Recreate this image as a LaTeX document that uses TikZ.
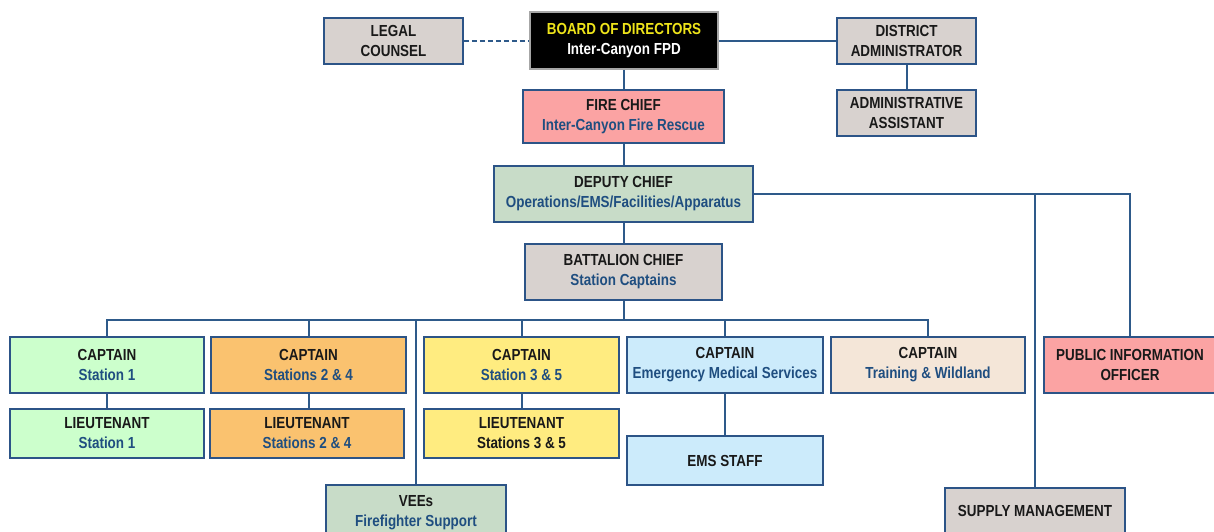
\documentclass[tikz,border=0pt]{standalone}
\usepackage{fontspec}
\setmainfont[FakeStretch=0.84]{Liberation Sans}
\definecolor{boxblue}{HTML}{2C5487}
\definecolor{linecol}{HTML}{2E5A8A}
\definecolor{greyfill}{HTML}{D8D2CF}
\definecolor{pinkfill}{HTML}{FBA3A3}
\definecolor{sagefill}{HTML}{C8DCC8}
\definecolor{greenfill}{HTML}{CCFFCC}
\definecolor{orangefill}{HTML}{FAC26F}
\definecolor{yellowfill}{HTML}{FFEC80}
\definecolor{bluefill}{HTML}{CCEBFB}
\definecolor{beigefill}{HTML}{F4E6D8}
\definecolor{subblue}{HTML}{1F4E80}
\definecolor{titleyellow}{HTML}{EEE41A}
\newcommand{\sub}[1]{\textcolor{subblue}{#1}}
\tikzset{
  orgbox/.style={draw=boxblue, line width=1.8pt, inner sep=0pt, align=center,
    font=\bfseries\fontsize{16}{20}\selectfont, text=black!90},
  link/.style={draw=linecol, line width=2pt},
}
\begin{document}
\begin{tikzpicture}[x=1pt,y=-1pt]
\useasboundingbox (0,0) rectangle (1214,531);
\clip (0,0) rectangle (1214,531);
\fill[white] (0,0) rectangle (1214,531);
% top row
\node[orgbox, fill=greyfill, minimum width=139, minimum height=46] (lc) at (393.5,41) {LEGAL\\COUNSEL};
\node[orgbox, fill=black, draw=gray!70, minimum width=188, minimum height=57] (bd) at (624,40.5) {\textcolor{titleyellow}{BOARD OF DIRECTORS}\\\textcolor{white}{Inter-Canyon FPD}};
\node[orgbox, fill=greyfill, minimum width=139, minimum height=46] (da) at (906.5,41) {DISTRICT\\ADMINISTRATOR};
\node[orgbox, fill=greyfill, minimum width=139, minimum height=46] (aa) at (906.5,113) {ADMINISTRATIVE\\ASSISTANT};
\node[orgbox, fill=pinkfill, minimum width=201, minimum height=53] (fc) at (623.5,116.5) {FIRE CHIEF\\\sub{Inter-Canyon Fire Rescue}};
\node[orgbox, fill=sagefill, minimum width=259, minimum height=56] (dc) at (623.5,194) {DEPUTY CHIEF\\\sub{Operations/EMS/Facilities/Apparatus}};
\node[orgbox, fill=greyfill, minimum width=197, minimum height=56] (bc) at (623.5,272) {BATTALION CHIEF\\\sub{Station Captains}};
% captains
\node[orgbox, fill=greenfill, minimum width=194, minimum height=56] (c1) at (107,365) {CAPTAIN\\\sub{Station 1}};
\node[orgbox, fill=orangefill, minimum width=195, minimum height=56] (c24) at (308.5,365) {CAPTAIN\\\sub{Stations 2 \& 4}};
\node[orgbox, fill=yellowfill, minimum width=195, minimum height=56] (c35) at (521.5,365) {CAPTAIN\\\sub{Station 3 \& 5}};
\node[orgbox, fill=bluefill, minimum width=196, minimum height=56] (cem) at (725,365) {CAPTAIN\\\sub{Emergency Medical Services}};
\node[orgbox, fill=beigefill, minimum width=194, minimum height=56] (ctw) at (928,365) {CAPTAIN\\\sub{Training \& Wildland}};
\node[orgbox, fill=pinkfill, minimum width=172, minimum height=56] (pio) at (1130,365) {PUBLIC INFORMATION\\OFFICER};
% lieutenants
\node[orgbox, fill=greenfill, minimum width=194, minimum height=49] (l1) at (107,433.5) {LIEUTENANT\\\sub{Station 1}};
\node[orgbox, fill=orangefill, minimum width=194, minimum height=49] (l24) at (307,433.5) {LIEUTENANT\\\sub{Stations 2 \& 4}};
\node[orgbox, fill=yellowfill, minimum width=195, minimum height=49] (l35) at (521.5,433.5) {LIEUTENANT\\Stations 3 \& 5};
\node[orgbox, fill=bluefill, minimum width=196, minimum height=49] (ems) at (725,460.5) {EMS STAFF};
\node[orgbox, fill=sagefill, minimum width=180, minimum height=56] (vee) at (416,513) {VEEs\\\sub{Firefighter Support}};
\node[orgbox, fill=greyfill, minimum width=180, minimum height=46] (sup) at (1035,511) {SUPPLY MANAGEMENT};
% connectors
\coordinate (bus) at (0,320);
\draw[link, dashed, dash pattern=on 5pt off 3pt] (lc.east) -- (lc.east -| bd.west);
\draw[link] (bd.east) -- (bd.east -| da.west);
\draw[link] (da.south) -- (aa.north);
\draw[link] (bd.south) -- (bd.south |- fc.north);
\draw[link] (fc.south) -- (dc.north);
\draw[link] (dc.south) -- (bc.north);
\draw[link] (dc.east) -| (pio.north);
\draw[link] (sup.north) -- (sup.north |- dc.east);
\draw[link] (bc.south) -- (bc.south |- bus);
\draw[link] (c1.north) -- (c1.north |- bus) -| (ctw.north);
\draw[link] (c24.north) -- (c24.north |- bus);
\draw[link] (c35.north) -- (c35.north |- bus);
\draw[link] (cem.north) -- (cem.north |- bus);
\draw[link] (vee.north) -- (vee.north |- bus);
\draw[link] (c1.south) -- (l1.north);
\draw[link] (c24.south) -- (c24.south |- l24.north);
\draw[link] (c35.south) -- (l35.north);
\draw[link] (cem.south) -- (ems.north);
\end{tikzpicture}
\end{document}
